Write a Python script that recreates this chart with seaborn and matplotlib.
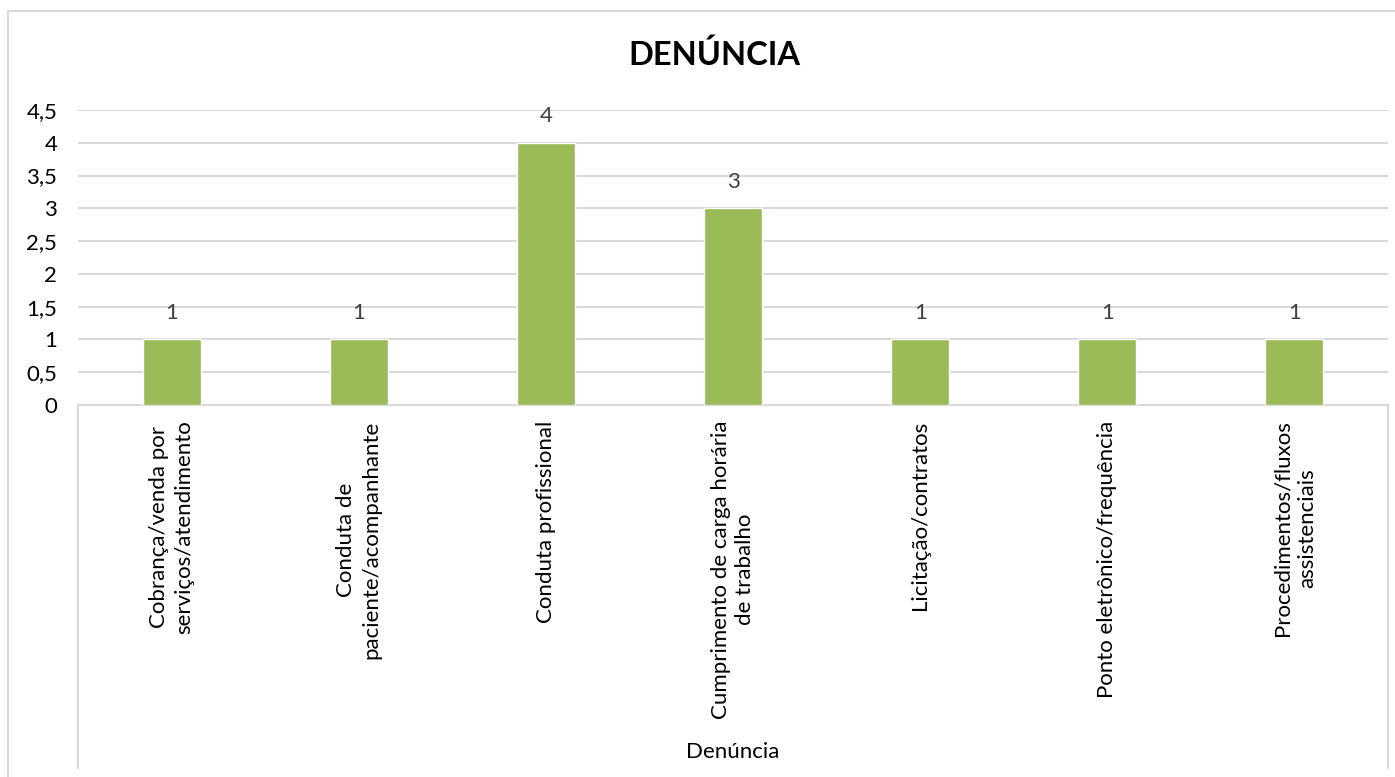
import matplotlib
matplotlib.use("Agg")
import matplotlib.pyplot as plt
from matplotlib.lines import Line2D
from matplotlib.patches import Rectangle
from matplotlib.ticker import FixedLocator
import seaborn as sns
import pandas as pd

# Data
categories = [
    "Cobrança/venda por\nserviços/atendimento",
    "Conduta de\npaciente/acompanhante",
    "Conduta profissional",
    "Cumprimento de carga horária\nde trabalho",
    "Licitação/contratos",
    "Ponto eletrônico/frequência",
    "Procedimentos/fluxos\nassistenciais",
]
counts = [1, 1, 4, 3, 1, 1, 1]
y_ticks = [0, 0.5, 1, 1.5, 2, 2.5, 3, 3.5, 4, 4.5]
y_tick_labels = ["0", "0,5", "1", "1,5", "2", "2,5", "3", "3,5", "4", "4,5"]
title = "DENÚNCIA"
x_label = "Denúncia"

df = pd.DataFrame({"categoria": categories, "total": counts})

sns.set_theme(style="white")
plt.rcParams["font.family"] = ["Lato", "DejaVu Sans"]

W, H = 1395, 777
fig = plt.figure(figsize=(W / 100, H / 100), dpi=100)
fig.patch.set_facecolor("white")

left, right, top, bottom = 78, 1388, 110, 405
ax = fig.add_axes([left / W, 1 - bottom / H, (right - left) / W, (bottom - top) / H])

sns.barplot(data=df, x="categoria", y="total", color="#9BBB59", width=0.31,
            saturation=1, ax=ax, zorder=3)

ax.set_ylim(0, 4.5)
ax.yaxis.set_major_locator(FixedLocator(y_ticks))
ax.set_yticklabels(y_tick_labels)
ax.yaxis.grid(True, color="#D9D9D9", linewidth=1.5, zorder=0)
ax.set_axisbelow(True)
ax.set_xlim(-0.5, len(categories) - 0.5)

for s in ["left", "right", "top"]:
    ax.spines[s].set_visible(False)
ax.spines["bottom"].set_color("#D9D9D9")
ax.spines["bottom"].set_linewidth(1.5)

ax.tick_params(axis="y", length=0, pad=15, labelsize=16, labelcolor="#000000")
ax.tick_params(axis="x", length=0, pad=11, labelsize=16, labelcolor="#000000")
for lbl in ax.get_xticklabels():
    lbl.set_rotation(90)
    lbl.set_ha("center")
    lbl.set_va("top")
    lbl.set_multialignment("center")
    lbl.set_linespacing(1.3)

ax.set_xlabel("")
ax.set_ylabel("")

for cont in ax.containers:
    ax.bar_label(cont, labels=[str(v) for v in counts], padding=12,
                 fontsize=16, color="#404040")

# Title and category axis title
fig.text(714 / W, 1 - 55 / H, title, ha="center", va="center",
         fontsize=23.5, fontweight="bold", color="#000000")
fig.text(733 / W, 1 - 752 / H, x_label, ha="center", va="center",
         fontsize=16, color="#000000")

# Category area frame lines
for xp in (left, right):
    fig.add_artist(Line2D([xp / W, xp / W], [1 - bottom / H, 1 - 768 / H],
                          transform=fig.transFigure, color="#D9D9D9", linewidth=1.5))

# Chart outer border
fig.add_artist(Rectangle((8 / W, -0.05), 1.2, 1 - 11 / H + 0.05,
                         transform=fig.transFigure, fill=False,
                         edgecolor="#D9D9D9", linewidth=1.5))

fig.savefig("out.png", dpi=100)
